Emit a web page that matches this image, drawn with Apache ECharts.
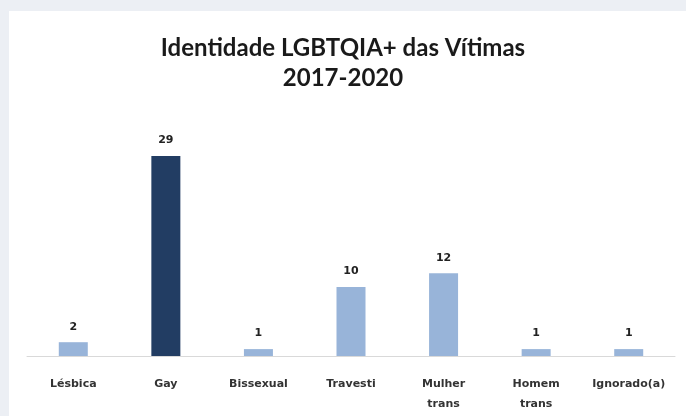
<!DOCTYPE html>
<html>
<head>
<meta charset="utf-8">
<script src="https://cdn.jsdelivr.net/npm/echarts@6/dist/echarts.min.js"></script>
<style>
  html, body { margin: 0; padding: 0; background: #eceff4; }
  #card { position: absolute; left: 9px; top: 11px; width: 677px; height: 405px; background: #fff; }
  #main { position: absolute; left: 0; top: 0; width: 686px; height: 416px; }
</style>
</head>
<body>
<div id="card"></div>
<div id="main"></div>
<script>
var categories = ['Lésbica', 'Gay', 'Bissexual', 'Travesti', 'Mulher\ntrans', 'Homem\ntrans', 'Ignorado(a)'];
var values = [2, 29, 1, 10, 12, 1, 1];
var highlightIndex = 1;

var chart = echarts.init(document.getElementById('main'));
chart.setOption({
    animation: false,
    backgroundColor: 'transparent',
    title: {
        text: 'Identidade LGBTQIA+ das Vítimas\n2017-2020',
        left: 'center',
        top: 28,
        textStyle: {
            fontFamily: 'Lato',
            fontWeight: 'bold',
            fontSize: 24,
            lineHeight: 30,
            color: '#1a1a1a'
        }
    },
    grid: { left: 27, right: 11, top: 156, bottom: 60 },
    xAxis: {
        type: 'category',
        data: categories,
        axisLine: { lineStyle: { color: '#d9d9d9', width: 1 } },
        axisTick: { show: false },
        axisLabel: {
            interval: 0,
            margin: 18,
            fontFamily: 'DejaVu Sans',
            fontWeight: 'bold',
            fontSize: 11,
            lineHeight: 20,
            color: '#333'
        }
    },
    yAxis: {
        type: 'value',
        min: 0,
        max: 29,
        show: false
    },
    series: [{
        type: 'bar',
        barWidth: 29,
        data: values.map(function (v, i) {
            return {
                value: v,
                itemStyle: { color: i === highlightIndex ? '#223d63' : '#98b4d9' }
            };
        }),
        label: {
            show: true,
            position: 'top',
            distance: 10,
            fontFamily: 'DejaVu Sans',
            fontWeight: 'bold',
            fontSize: 11,
            color: '#222'
        }
    }]
});
</script>
</body>
</html>
